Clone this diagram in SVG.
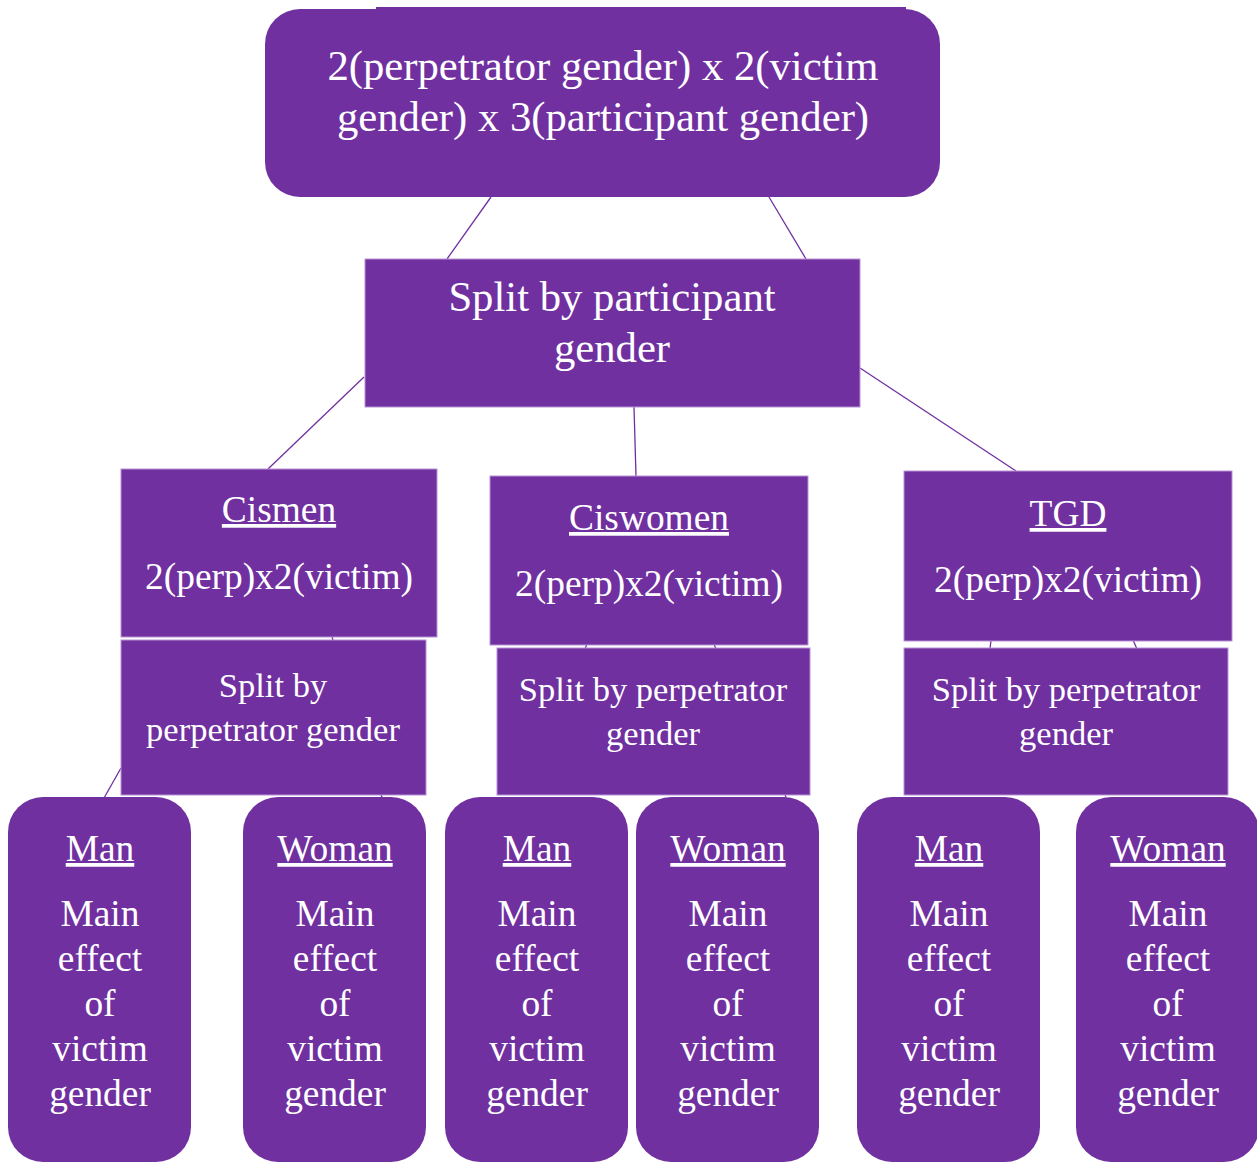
<svg xmlns="http://www.w3.org/2000/svg" width="1257" height="1163" viewBox="0 0 1257 1163">
<style>
.box{fill:#7030A0;stroke:#b992d6;stroke-width:1}
.rbox{fill:#7030A0}
.conn{stroke:#7030A0;stroke-width:1.3;fill:none}
text{font-family:"Liberation Serif","Times New Roman",serif;fill:#ffffff;text-anchor:middle}
.t42{font-size:42.7px}
.t37{font-size:37.4px}
.t34{font-size:34.5px}
.u{text-decoration:underline}
</style>
<rect width="1257" height="1163" fill="#ffffff"/>
<g id="connectors">
<line class="conn" x1="491" y1="197" x2="447" y2="259"/>
<line class="conn" x1="769" y1="197" x2="806" y2="259"/>
<line class="conn" x1="364" y1="377" x2="268" y2="469"/>
<line class="conn" x1="634" y1="407" x2="636" y2="476"/>
<line class="conn" x1="860" y1="368" x2="1016" y2="471"/>
<line class="conn" x1="332" y1="636" x2="333" y2="641"/>
<line class="conn" x1="587" y1="644" x2="585" y2="649"/>
<line class="conn" x1="714" y1="644" x2="716" y2="649"/>
<line class="conn" x1="991" y1="640" x2="990" y2="649"/>
<line class="conn" x1="1133" y1="640" x2="1137" y2="649"/>
<line class="conn" x1="121" y1="768" x2="104" y2="798"/>
<line class="conn" x1="381" y1="794" x2="382" y2="798"/>
<line class="conn" x1="785" y1="794" x2="786" y2="798"/>
</g>
<g id="node-top">
<rect class="rbox" x="265" y="9" width="675" height="188" rx="35" ry="35"/>
<rect class="rbox" x="376" y="7" width="530" height="30"/>
<text class="t42" x="603" y="80">2(perpetrator gender) x 2(victim</text>
<text class="t42" x="603" y="131">gender) x 3(participant gender)</text>
</g>
<g id="node-split-participant">
<rect class="box" x="365" y="259" width="495" height="148"/>
<text class="t42" x="612" y="311">Split by participant</text>
<text class="t42" x="612" y="362">gender</text>
</g>
<g id="node-cismen">
<rect class="box" x="121" y="469" width="316" height="168"/>
<text class="t37 u" x="279" y="522">Cismen</text>
<text class="t37" x="279" y="589">2(perp)x2(victim)</text>
</g>
<g id="node-ciswomen">
<rect class="box" x="490" y="476" width="318" height="169"/>
<text class="t37 u" x="649" y="530">Ciswomen</text>
<text class="t37" x="649" y="596">2(perp)x2(victim)</text>
</g>
<g id="node-tgd">
<rect class="box" x="904" y="471" width="328" height="170"/>
<text class="t37 u" x="1068" y="526">TGD</text>
<text class="t37" x="1068" y="592">2(perp)x2(victim)</text>
</g>
<g id="node-split-perp-1">
<rect class="box" x="121" y="640" width="305" height="155"/>
<text class="t34" x="273" y="697">Split by</text>
<text class="t34" x="273" y="741">perpetrator gender</text>
</g>
<g id="node-split-perp-2">
<rect class="box" x="497" y="648" width="313" height="147"/>
<text class="t34" x="653" y="701">Split by perpetrator</text>
<text class="t34" x="653" y="745">gender</text>
</g>
<g id="node-split-perp-3">
<rect class="box" x="904" y="648" width="324" height="147"/>
<text class="t34" x="1066" y="701">Split by perpetrator</text>
<text class="t34" x="1066" y="745">gender</text>
</g>
<g id="node-man-1">
<rect class="rbox" x="8" y="797" width="183" height="365" rx="35" ry="35"/>
<text class="t37 u" x="100" y="861">Man</text>
<text class="t37" x="100" y="926">Main</text>
<text class="t37" x="100" y="971">effect</text>
<text class="t37" x="100" y="1016">of</text>
<text class="t37" x="100" y="1061">victim</text>
<text class="t37" x="100" y="1106">gender</text>
</g>
<g id="node-woman-1">
<rect class="rbox" x="243" y="797" width="183" height="365" rx="35" ry="35"/>
<text class="t37 u" x="335" y="861">Woman</text>
<text class="t37" x="335" y="926">Main</text>
<text class="t37" x="335" y="971">effect</text>
<text class="t37" x="335" y="1016">of</text>
<text class="t37" x="335" y="1061">victim</text>
<text class="t37" x="335" y="1106">gender</text>
</g>
<g id="node-man-2">
<rect class="rbox" x="445" y="797" width="183" height="365" rx="35" ry="35"/>
<text class="t37 u" x="537" y="861">Man</text>
<text class="t37" x="537" y="926">Main</text>
<text class="t37" x="537" y="971">effect</text>
<text class="t37" x="537" y="1016">of</text>
<text class="t37" x="537" y="1061">victim</text>
<text class="t37" x="537" y="1106">gender</text>
</g>
<g id="node-woman-2">
<rect class="rbox" x="636" y="797" width="183" height="365" rx="35" ry="35"/>
<text class="t37 u" x="728" y="861">Woman</text>
<text class="t37" x="728" y="926">Main</text>
<text class="t37" x="728" y="971">effect</text>
<text class="t37" x="728" y="1016">of</text>
<text class="t37" x="728" y="1061">victim</text>
<text class="t37" x="728" y="1106">gender</text>
</g>
<g id="node-man-3">
<rect class="rbox" x="857" y="797" width="183" height="365" rx="35" ry="35"/>
<text class="t37 u" x="949" y="861">Man</text>
<text class="t37" x="949" y="926">Main</text>
<text class="t37" x="949" y="971">effect</text>
<text class="t37" x="949" y="1016">of</text>
<text class="t37" x="949" y="1061">victim</text>
<text class="t37" x="949" y="1106">gender</text>
</g>
<g id="node-woman-3">
<rect class="rbox" x="1076" y="797" width="183" height="365" rx="35" ry="35"/>
<text class="t37 u" x="1168" y="861">Woman</text>
<text class="t37" x="1168" y="926">Main</text>
<text class="t37" x="1168" y="971">effect</text>
<text class="t37" x="1168" y="1016">of</text>
<text class="t37" x="1168" y="1061">victim</text>
<text class="t37" x="1168" y="1106">gender</text>
</g>
</svg>
